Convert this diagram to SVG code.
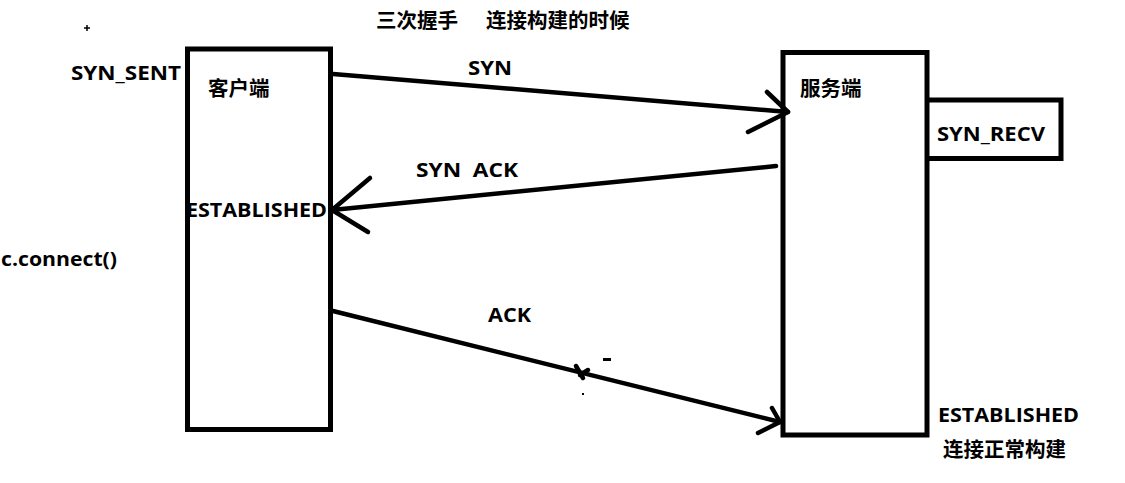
<svg xmlns="http://www.w3.org/2000/svg" width="1125" height="483" viewBox="0 0 1125 483">
<style>
.ln{stroke:#000;stroke-width:5;fill:none;stroke-linecap:butt;stroke-linejoin:miter}
.ar{stroke:#000;stroke-width:4.5;fill:none;stroke-linecap:round;stroke-linejoin:round}
.t{font-family:"Open Sans","Noto Sans CJK SC",sans-serif;font-weight:bold;font-size:20px;fill:#000}
.c{font-family:"Noto Sans CJK SC","Open Sans",sans-serif;font-weight:bold;font-size:20.5px;fill:#000}
</style>
<rect width="1125" height="483" fill="#fff"/>
<g id="title">
<text class="c" x="376" y="28">三次握手<tspan x="486">连接构建的时候</tspan></text>
</g>
<g id="client">
<rect class="ln" x="187.5" y="49" width="143" height="380.5"/>
<text class="c" x="208" y="96">客户端</text>
<text class="t" x="186" y="217" textLength="141" lengthAdjust="spacingAndGlyphs">ESTABLISHED</text>
</g>
<g id="client-labels">
<text class="t" x="71" y="80" textLength="110" lengthAdjust="spacingAndGlyphs">SYN_SENT</text>
<text class="t" x="1" y="266" textLength="116" lengthAdjust="spacingAndGlyphs">c.connect()</text>
</g>
<g id="server">
<rect class="ln" x="783" y="52.5" width="144" height="382.5"/>
<text class="c" x="800" y="96">服务端</text>
</g>
<g id="syn-recv">
<polyline class="ln" points="925,100 1061,100 1061,158.5 928,158.5"/>
<text class="t" x="937" y="141" textLength="108" lengthAdjust="spacingAndGlyphs">SYN_RECV</text>
</g>
<g id="server-labels">
<text class="t" x="938" y="422" textLength="141" lengthAdjust="spacingAndGlyphs">ESTABLISHED</text>
<text class="c" x="943" y="457">连接正常构建</text>
</g>
<g id="connectors">
<line class="ar" x1="333" y1="74" x2="788" y2="112"/>
<polyline class="ar" points="767,92 788,112 748,132"/>
<line class="ar" x1="776" y1="166" x2="332" y2="210"/>
<polyline class="ar" points="370,178 332,210 368,232"/>
<line class="ar" x1="333" y1="311" x2="780" y2="422"/>
<polyline class="ar" points="772,408 780,422 758,433"/>
<path class="ar" d="M576,366 L583,378 M580,375 L588,370" stroke-width="3"/>
</g>
<g id="connector-labels">
<text class="t" x="468" y="75" textLength="44" lengthAdjust="spacingAndGlyphs">SYN</text>
<text class="t" x="416" y="177" xml:space="preserve" textLength="102" lengthAdjust="spacingAndGlyphs">SYN  ACK</text>
<text class="t" x="488" y="322" textLength="43" lengthAdjust="spacingAndGlyphs">ACK</text>
</g>
<g id="marks">
<rect x="603" y="358" width="8" height="3" fill="#000"/>
<rect x="582" y="393" width="2" height="2" fill="#000"/>
<path d="M84,28 h6 M87,25 v6" stroke="#000" stroke-width="1.5"/>
</g>
</svg>
